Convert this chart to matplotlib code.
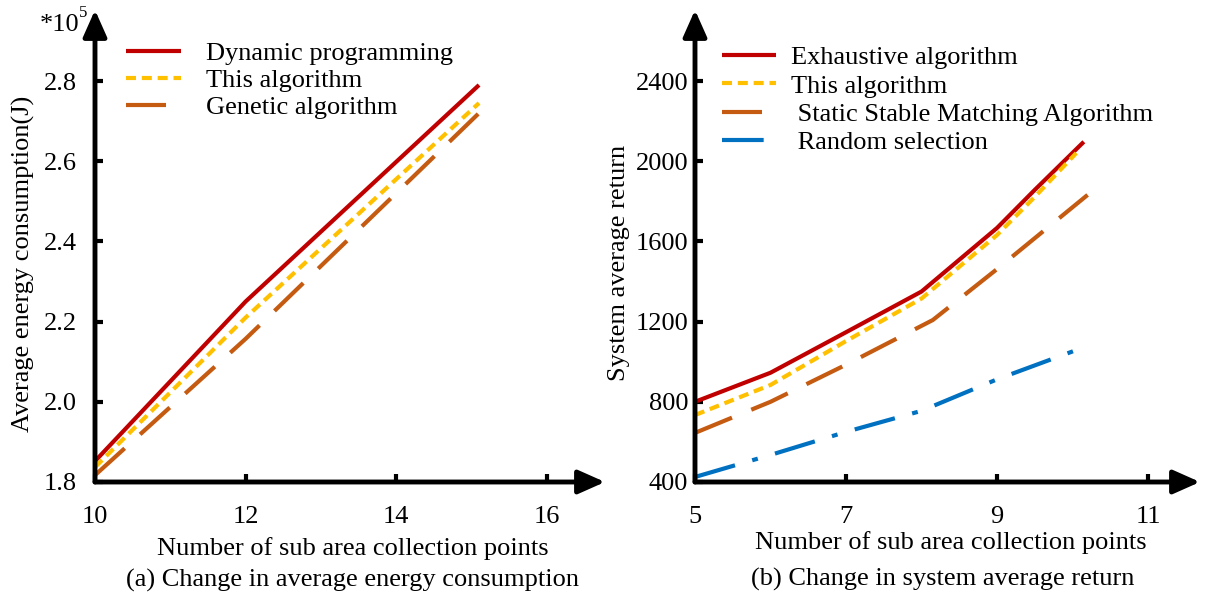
import matplotlib.pyplot as plt

# ---- data ----
points_a = [10, 12, 15.1]
dynamic_prog = [1.852, 2.25, 2.79]
this_alg_a = [1.837, 2.21, 2.745]
genetic = [1.817, 2.157, 2.72]

points_b = [5, 6, 7, 8, 9, 9.5, 10.15]
exhaustive = [800, 945, 1147, 1350, 1667, 1857, 2097]
points_b_this = [5, 6, 7, 8, 9, 9.5, 10.05]
this_alg_b = [734, 884, 1103, 1315, 1632, 1822, 2041]
points_b_static = [5, 6, 7, 8.15, 9, 10.2]
static_match = [645, 800, 985, 1208, 1462, 1832]
points_b_rand = [5, 6, 7, 8, 9, 10.1]
random_sel = [425, 535, 650, 755, 912, 1065]

xticks_a = [10, 12, 14, 16]
yticks_a = [1.8, 2.0, 2.2, 2.4, 2.6, 2.8]
xticks_b = [5, 7, 9, 11]
yticks_b = [400, 800, 1200, 1600, 2000, 2400]

RED = '#C00000'
YELLOW = '#FFC000'
ORANGE = '#C55A11'
BLUE = '#0070C0'

W, H = 1207, 595
plt.rcParams['font.family'] = ['Liberation Serif', 'DejaVu Serif']
fig = plt.figure(figsize=(W / 100, H / 100), dpi=100)


def px_axes(left, top, right, bottom):
    return fig.add_axes([left / W, 1 - bottom / H, (right - left) / W, (bottom - top) / H])


def ftext(x, y, s, **kw):
    fig.text(x / W, 1 - y / H, s, **kw)


def style_axes(ax, ypad):
    for sp in ax.spines.values():
        sp.set_visible(False)
    head = '-|>,head_length=0.45,head_width=0.2'
    for end in [(1, 0), (0, 1)]:
        ax.annotate('', xy=end, xytext=(0, 0), xycoords='axes fraction',
                    arrowprops=dict(arrowstyle=head, lw=3.5, color='k',
                                    mutation_scale=36, shrinkA=0, shrinkB=0))
    ax.tick_params(direction='in', length=6, width=3, labelsize=19, color='k')
    ax.tick_params(axis='y', pad=ypad)
    ax.tick_params(axis='x', pad=17)


ax1 = px_axes(95, 10, 605, 482)
ax2 = px_axes(695, 10, 1200, 482)

# (a)
lw = 3
ax1.plot(points_a, dynamic_prog, color=RED, lw=lw, label='Dynamic programming', solid_capstyle='butt')
ax1.plot(points_a, this_alg_a, color=YELLOW, lw=lw, dashes=(2.4, 1.4), label='This algorithm')
ax1.plot(points_a, genetic, color=ORANGE, lw=lw, dashes=(9.6, 5), label='Genetic algorithm')
ax1.set_xlim(10, 10 + 510 / 75.3)
ax1.set_ylim(1.8, 1.8 + 472 / 401)
ax1.set_xticks(xticks_a)
ax1.set_yticks(yticks_a)
ax1.set_yticklabels([f'{v:.1f}' for v in yticks_a])
style_axes(ax1, 13)
ax1.legend(loc='upper left', bbox_to_anchor=(126 / W, 1 - 42 / H), bbox_transform=fig.transFigure,
           frameon=False, fontsize=19, handlelength=2.1, handletextpad=0.95,
           labelspacing=0.13, borderpad=0, borderaxespad=0)

# (b)
ax2.plot(points_b, exhaustive, color=RED, lw=lw, label='Exhaustive algorithm', solid_capstyle='butt')
ax2.plot(points_b_this, this_alg_b, color=YELLOW, lw=lw, dashes=(2.4, 1.4), label='This algorithm')
ax2.plot(points_b_static, static_match, color=ORANGE, lw=lw, dashes=(9.6, 5),
         label=' Static Stable Matching Algorithm')
ax2.plot(points_b_rand, random_sel, color=BLUE, lw=lw, dashes=(10, 4.3, 1.4, 4.3),
         label=' Random selection')
ax2.set_xlim(5, 5 + 505 / 75.5)
ax2.set_ylim(400, 400 + 472 * 4.988)
ax2.set_xticks(xticks_b)
ax2.set_yticks(yticks_b)
style_axes(ax2, 5)
ax2.legend(loc='upper left', bbox_to_anchor=(722 / W, 1 - 46 / H), bbox_transform=fig.transFigure,
           frameon=False, fontsize=19, handlelength=2.05, handletextpad=0.55,
           labelspacing=0.18, borderpad=0, borderaxespad=0)

# labels
ftext(353, 549, 'Number of sub area collection points', ha='center', va='center', fontsize=19)
ftext(352, 580, '(a) Change in average energy consumption', ha='center', va='center', fontsize=19)
ftext(951, 543, 'Number of sub area collection points', ha='center', va='center', fontsize=19)
ftext(943, 579, '(b) Change in system average return', ha='center', va='center', fontsize=19)
ftext(23, 264, 'Average energy consumption(J)', ha='center', va='center', rotation=90, fontsize=19)
ftext(619, 263, 'System average return', ha='center', va='center', rotation=90, fontsize=19)
ftext(40, 25, '*10', ha='left', va='center', fontsize=19)
ftext(79, 13, '5', ha='left', va='center', fontsize=12)

fig.savefig('out.png', dpi=100)
